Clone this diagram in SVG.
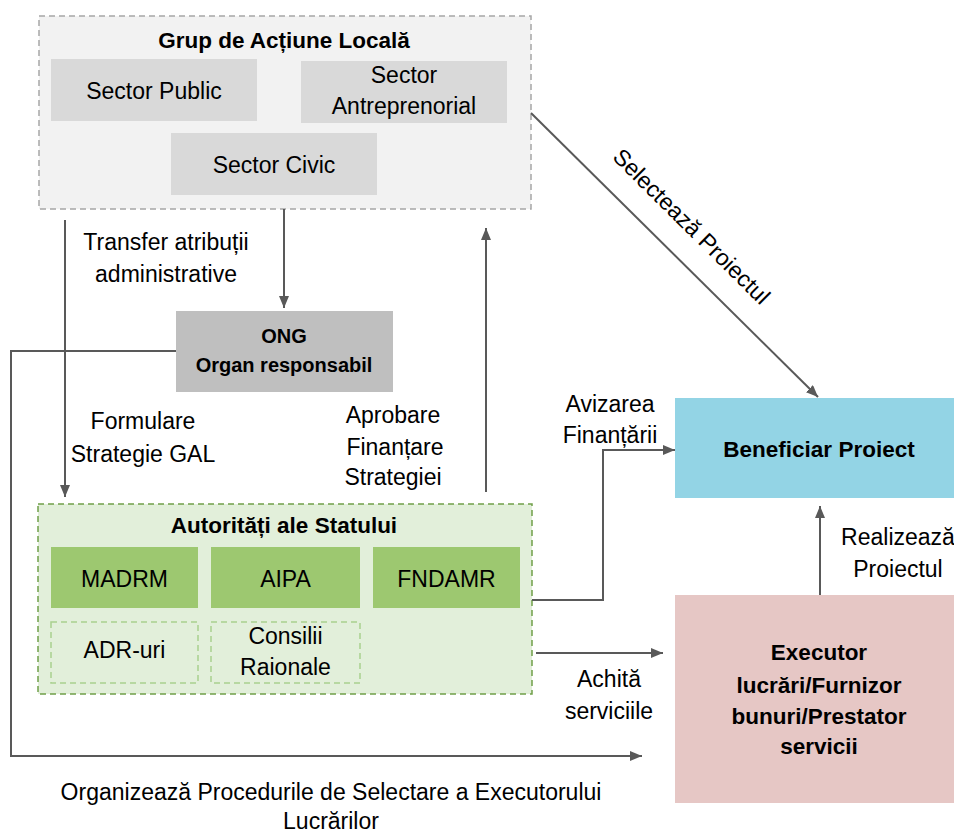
<svg xmlns="http://www.w3.org/2000/svg" width="954" height="835" viewBox="0 0 954 835">
<style>
text{font-family:"Liberation Sans",Arial,sans-serif;font-size:23px;fill:#000;text-anchor:middle}
.b{font-weight:bold;font-size:22.5px}
.conn{fill:none;stroke:#595959;stroke-width:2}
</style>
<defs>
<marker id="ah" markerUnits="userSpaceOnUse" markerWidth="13" markerHeight="11" refX="12" refY="5" orient="auto">
<path d="M0,0 L12,5 L0,10 z" fill="#595959"/>
</marker>
</defs>
<rect width="954" height="835" fill="#fff"/>
<g id="gal">
<rect x="39" y="16" width="492" height="193" fill="#f2f2f2" stroke="#a6a6a6" stroke-width="1.5" stroke-dasharray="6,4"/>
<text class="b" x="284" y="48">Grup de Acțiune Locală</text>
</g>
<g id="sector-public">
<rect x="51" y="59" width="206" height="62" fill="#d9d9d9"/>
<text x="154" y="99">Sector Public</text>
</g>
<g id="sector-antreprenorial">
<rect x="301" y="61" width="206" height="62" fill="#d9d9d9"/>
<text x="404" y="83">Sector</text>
<text x="404" y="114">Antreprenorial</text>
</g>
<g id="sector-civic">
<rect x="171" y="133" width="206" height="62" fill="#d9d9d9"/>
<text x="274" y="173">Sector Civic</text>
</g>
<g id="ong">
<rect x="176" y="311" width="217" height="81" fill="#bfbfbf"/>
<text class="b" x="284" y="343" style="font-size:20px">ONG</text>
<text class="b" x="284" y="372" style="font-size:20px">Organ responsabil</text>
</g>
<g id="autoritati">
<rect x="38" y="504" width="494" height="190" fill="#e2efda" stroke="#70a04a" stroke-width="1.5" stroke-dasharray="6,4"/>
<text class="b" x="284" y="533">Autorități ale Statului</text>
</g>
<g id="madrm">
<rect x="51" y="547" width="147" height="61" fill="#9dc870"/>
<text x="124.5" y="587">MADRM</text>
</g>
<g id="aipa">
<rect x="211" y="547" width="149" height="61" fill="#9dc870"/>
<text x="285.5" y="587">AIPA</text>
</g>
<g id="fndamr">
<rect x="373" y="547" width="147" height="61" fill="#9dc870"/>
<text x="446.5" y="587">FNDAMR</text>
</g>
<g id="adr">
<rect x="51" y="622" width="147" height="61" fill="none" stroke="#a9d18e" stroke-width="1.5" stroke-dasharray="6,4"/>
<text x="124.5" y="658">ADR-uri</text>
</g>
<g id="consilii">
<rect x="211" y="622" width="149" height="61" fill="none" stroke="#a9d18e" stroke-width="1.5" stroke-dasharray="6,4"/>
<text x="285.5" y="644">Consilii</text>
<text x="285.5" y="675">Raionale</text>
</g>
<g id="beneficiar">
<rect x="675" y="398" width="279" height="100" fill="#93d4e5"/>
<text class="b" x="819" y="457">Beneficiar Proiect</text>
</g>
<g id="executor">
<rect x="675" y="595" width="279" height="208" fill="#e6c7c5"/>
<text class="b" x="819" y="660">Executor</text>
<text class="b" x="819" y="693">lucrări/Furnizor</text>
<text class="b" x="819" y="724">bunuri/Prestator</text>
<text class="b" x="819" y="754">servicii</text>
</g>
<g id="connectors">
<path class="conn" d="M65 220 V497" marker-end="url(#ah)"/>
<path class="conn" d="M284 209 V308" marker-end="url(#ah)"/>
<path class="conn" d="M176 351 H11 V756 H642" marker-end="url(#ah)"/>
<path class="conn" d="M486 492 V228" marker-end="url(#ah)"/>
<path class="conn" d="M531 113 L818 397" marker-end="url(#ah)"/>
<path class="conn" d="M532 600 H603 V450 H675" marker-end="url(#ah)"/>
<path class="conn" d="M536 653 H663" marker-end="url(#ah)"/>
<path class="conn" d="M820 595 V506" marker-end="url(#ah)"/>
</g>
<g id="labels">
<text x="166" y="250">Transfer atribuții</text>
<text x="166" y="282">administrative</text>
<text x="143" y="429">Formulare</text>
<text x="143" y="462">Strategie GAL</text>
<text x="393" y="423">Aprobare</text>
<text x="395" y="455">Finanțare</text>
<text x="393" y="485">Strategiei</text>
<text x="610" y="412">Avizarea</text>
<text x="610" y="443">Finanțării</text>
<text x="898" y="545">Realizează</text>
<text x="898" y="577">Proiectul</text>
<text x="609" y="687">Achită</text>
<text x="609" y="719">serviciile</text>
<text x="331" y="800">Organizează Procedurile de Selectare a Executorului</text>
<text x="331" y="829">Lucrărilor</text>
<text transform="translate(686 232) rotate(44.7)" x="0" y="0">Selectează Proiectul</text>
</g>
</svg>
